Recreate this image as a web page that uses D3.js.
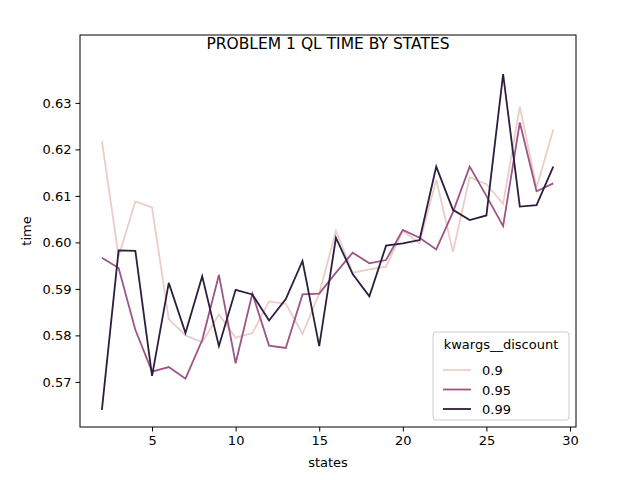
<!DOCTYPE html>
<html>
<head>
<meta charset="utf-8">
<script src="https://cdn.jsdelivr.net/npm/d3@7"></script>
<style>
  body { margin: 0; background: #fff; }
  text { font-family: "DejaVu Sans", sans-serif; }
</style>
</head>
<body>
<svg id="chart" width="640" height="480"></svg>
<script>
var states = d3.range(2, 30);
var seriesNames = ["0.9", "0.95", "0.99"];
var colors = ["#ebcdc8", "#9c5587", "#2d1e3e"];
var d09 = [0.6218, 0.597, 0.6088, 0.6075, 0.5835, 0.5800, 0.5785, 0.5845, 0.5795, 0.5805, 0.5873, 0.5868, 0.5803, 0.5890,
  0.6025, 0.5935, 0.5942, 0.5948, 0.6025, 0.5998, 0.6135, 0.5980, 0.6140, 0.6125, 0.6083, 0.6292, 0.6118, 0.6243];
var d095 = [0.5967, 0.5945, 0.5812, 0.5722, 0.5732, 0.5707, 0.5790, 0.5930, 0.5740, 0.5890, 0.5778, 0.5773, 0.5888, 0.5890,
  0.5935, 0.5978, 0.5955, 0.5962, 0.6027, 0.6010, 0.5985, 0.6065, 0.6163, 0.6100, 0.6035, 0.6258, 0.6110, 0.6127];
var d099 = [0.5640, 0.5983, 0.5982, 0.5713, 0.5913, 0.5805, 0.5927, 0.5777, 0.5898, 0.5888, 0.5832, 0.5878, 0.5960, 0.5777,
  0.6010, 0.5932, 0.5884, 0.5993, 0.5998, 0.6005, 0.6163, 0.6070, 0.6048, 0.6058, 0.6362, 0.6077, 0.6080, 0.6163];
var series = [d09, d095, d099];
var xTicks = [5, 10, 15, 20, 25, 30];
var yTicks = [0.57, 0.58, 0.59, 0.60, 0.61, 0.62, 0.63];

var svg = d3.select("#chart");
var L = 80, R = 576, T = 35, B = 427;
var x = d3.scaleLinear().domain([0.69, 30.36]).range([L, R]);
var y = d3.scaleLinear().domain([0.5603, 0.6446]).range([B, T]);

svg.append("g").attr("transform", "translate(0," + B + ")")
  .call(d3.axisBottom(x).tickValues(xTicks).tickSize(4.5).tickPadding(4).tickFormat(d3.format("d")))
  .call(function(g) { g.select(".domain").remove(); g.selectAll("text").attr("font-size", 13).attr("fill", "#000"); });
svg.append("g").attr("transform", "translate(" + L + ",0)")
  .call(d3.axisLeft(y).tickValues(yTicks).tickSize(4.5).tickPadding(4).tickFormat(d3.format(".2f")))
  .call(function(g) { g.select(".domain").remove(); g.selectAll("text").attr("font-size", 13).attr("fill", "#000"); });

var line = d3.line().x(function(d, i) { return x(states[i]); }).y(function(d) { return y(d); });
series.forEach(function(s, i) {
  svg.append("path").datum(s).attr("d", line).attr("fill", "none")
    .attr("stroke", colors[i]).attr("stroke-width", 1.8);
});

svg.append("rect").attr("x", L).attr("y", T).attr("width", R - L).attr("height", B - T)
  .attr("fill", "none").attr("stroke", "#000").attr("stroke-width", 1);

svg.append("text").attr("x", (L + R) / 2).attr("y", 49).attr("text-anchor", "middle")
  .attr("font-size", 15.5).text("PROBLEM 1 QL TIME BY STATES");
svg.append("text").attr("x", (L + R) / 2).attr("y", 467).attr("text-anchor", "middle")
  .attr("font-size", 13).text("states");
svg.append("text").attr("transform", "translate(31," + (T + B) / 2 + ") rotate(-90)")
  .attr("text-anchor", "middle").attr("font-size", 13).text("time");

// legend
var lg = svg.append("g").attr("transform", "translate(433,332)");
lg.append("rect").attr("width", 136).attr("height", 88).attr("rx", 3)
  .attr("fill", "#fff").attr("fill-opacity", 0.8).attr("stroke", "#ccc");
lg.append("text").attr("x", 68).attr("y", 17).attr("text-anchor", "middle")
  .attr("font-size", 13).text("kwargs__discount");
seriesNames.forEach(function(n, i) {
  var yy = 38 + i * 19.5;
  lg.append("line").attr("x1", 10).attr("x2", 38).attr("y1", yy).attr("y2", yy)
    .attr("stroke", colors[i]).attr("stroke-width", 1.8);
  lg.append("text").attr("x", 49).attr("y", yy + 5).attr("font-size", 13).text(n);
});
</script>
</body>
</html>
